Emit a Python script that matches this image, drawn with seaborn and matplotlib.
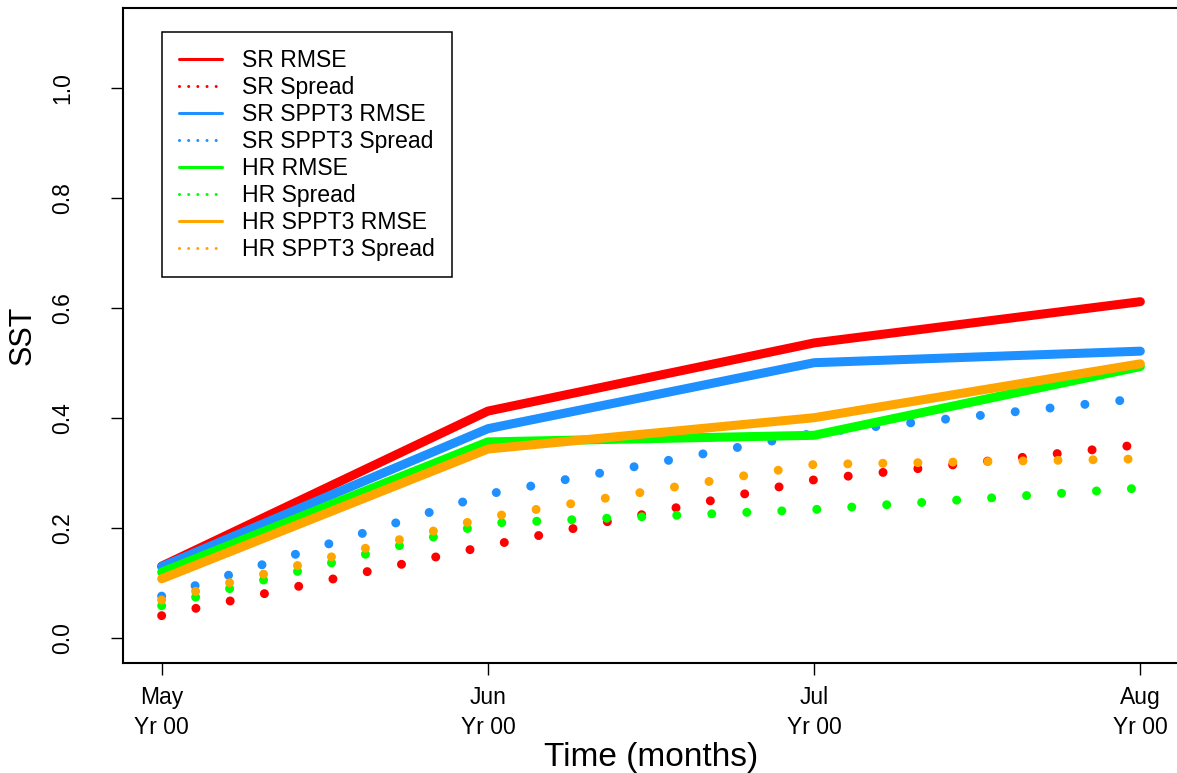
import numpy as np
import pandas as pd
import matplotlib
matplotlib.use("Agg")
import matplotlib.pyplot as plt
from matplotlib.lines import Line2D
import seaborn as sns

# ---- data ----
month_pos = [0, 1, 2, 3]
month_labels = ["May\nYr 00", "Jun\nYr 00", "Jul\nYr 00", "Aug\nYr 00"]

sr_rmse = [0.131, 0.413, 0.537, 0.612]
sr_spread = [0.041, 0.168, 0.288, 0.352]
sr_sppt3_rmse = [0.130, 0.381, 0.501, 0.522]
sr_sppt3_spread = [0.0765, 0.262, 0.373, 0.436]
hr_rmse = [0.120, 0.357, 0.369, 0.494]
hr_spread = [0.059, 0.209, 0.234, 0.273]
hr_sppt3_rmse = [0.108, 0.344, 0.401, 0.499]
hr_sppt3_spread = [0.0695, 0.220, 0.316, 0.326]

series_names = ["SR RMSE", "SR Spread", "SR SPPT3 RMSE", "SR SPPT3 Spread",
                "HR RMSE", "HR Spread", "HR SPPT3 RMSE", "HR SPPT3 Spread"]
series_values = [sr_rmse, sr_spread, sr_sppt3_rmse, sr_sppt3_spread,
                 hr_rmse, hr_spread, hr_sppt3_rmse, hr_sppt3_spread]
series_colors = ["#FF0000", "#FF0000", "#1E90FF", "#1E90FF",
                 "#00FF00", "#00FF00", "#FFA500", "#FFA500"]
series_dotted = [False, True, False, True, False, True, False, True]

y_ticks = [0.0, 0.2, 0.4, 0.6, 0.8, 1.0]

# ---- style ----
sns.set_style("ticks")
plt.rcParams["font.family"] = ["Liberation Sans", "DejaVu Sans"]
plt.rcParams["text.color"] = "black"
plt.rcParams["axes.labelcolor"] = "black"

W, H = 1177, 773
fig = plt.figure(figsize=(W / 100, H / 100), dpi=100)
ax_left, ax_right, ax_top, ax_bottom = 122.5, 1179.5, 7.5, 662.5
ax = fig.add_axes([ax_left / W, 1 - ax_bottom / H,
                   (ax_right - ax_left) / W, (ax_bottom - ax_top) / H])

lw = 6.5  # points
for name, vals, col, dotted in zip(series_names, series_values,
                                   series_colors, series_dotted):
    df = pd.DataFrame({"t": month_pos, "v": vals})
    sns.lineplot(data=df, x="t", y="v", color=col, linewidth=lw, ax=ax,
                 legend=False)
    ln = ax.lines[-1]
    if dotted:
        ln.set_linestyle((0, (0.001, 3.88)))
        ln.set_dash_capstyle("round")
    else:
        ln.set_solid_capstyle("round")
        ln.set_solid_joinstyle("round")

ax.set_xlim(-0.12, 3.12)
ax.set_ylim(-0.0442, 1.147)
ax.set_xticks(month_pos)
ax.set_xticklabels(month_labels, linespacing=1.4)
ax.set_yticks(y_ticks)
ax.set_yticklabels([f"{v:.1f}" for v in y_ticks])

for s in ["left", "bottom", "top", "right"]:
    ax.spines[s].set_visible(True)
    ax.spines[s].set_linewidth(1.5)
    ax.spines[s].set_color("black")

ax.tick_params(axis="both", direction="out", length=8.5, width=1.0,
               colors="black", labelcolor="black", labelsize=16.5)
ax.tick_params(axis="x", pad=8.5)
ax.tick_params(axis="y", pad=26, labelrotation=90)
for lab in ax.get_yticklabels():
    lab.set_va("center")

ax.set_xlabel("Time (months)", fontsize=24, color="black")
ax.set_ylabel("SST", fontsize=22, color="black")
ax.xaxis.set_label_coords(0.5, -0.121)
ax.yaxis.set_label_coords(-0.08, 0.5)

# legend
handles = []
for name, col, dotted in zip(series_names, series_colors, series_dotted):
    if dotted:
        h = Line2D([], [], color=col, linewidth=2.2,
                   linestyle=(0, (0.001, 3.0)), dash_capstyle="round")
    else:
        h = Line2D([], [], color=col, linewidth=2.2)
    handles.append(h)

leg = ax.legend(handles, series_names, loc="upper left",
                bbox_to_anchor=((162 - ax_left) / (ax_right - ax_left),
                                (ax_bottom - 32) / (ax_bottom - ax_top)),
                borderaxespad=0, fontsize=16.6, frameon=True, fancybox=False,
                edgecolor="black", framealpha=1, handlelength=1.87,
                handletextpad=0.9, labelspacing=0.175, borderpad=0.72)
leg.get_frame().set_linewidth(1.1)
for txt in leg.get_texts():
    txt.set_color("black")

fig.savefig("out.png", dpi=100, facecolor="white")
